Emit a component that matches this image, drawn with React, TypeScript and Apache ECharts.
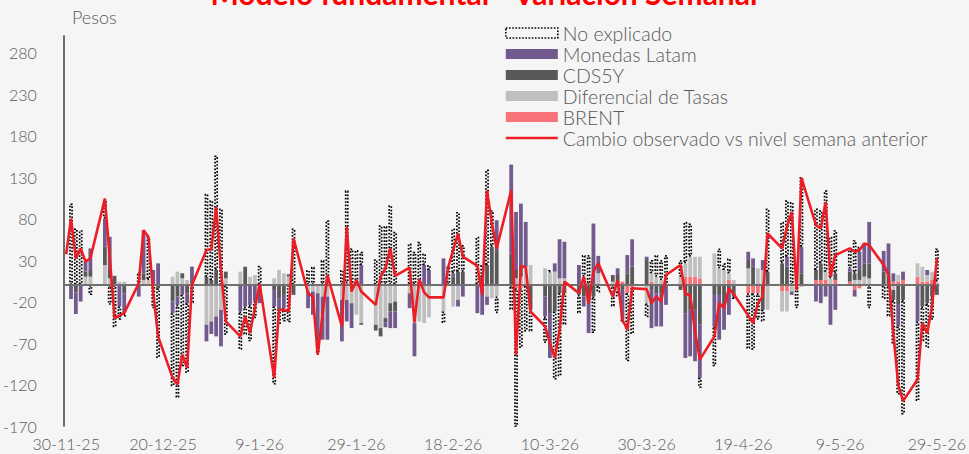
import React, { useEffect, useRef } from "react";
import * as echarts from "echarts";

// Calendar: daily axis from 30-11-25 to 29-5-26, values only on weekdays
const startYear = 2025;
const startMonth = 10; // November (0-based)
const startDay = 30;
const dayCount = 181;

const legendNames = [
  "No explicado",
  "Monedas Latam",
  "CDS5Y",
  "Diferencial de Tasas",
  "BRENT",
  "Cambio observado vs nivel semana anterior",
];

// Weekday values, 5 per week (Mon..Fri), 26 weeks
const brent = [
  0, 0, 0, 0, 0, 0, 0, 0, 0, 0, 0, 0, 0, 0, 0, 0, 0, 0, 0, 0, 0, 0, 0, 0, 0,
  0, 0, 0, 0, 0, 0, 0, 0, 0, 0, 0, 0, 0, 0, 0, 0, 2, 0, 0, 0, 0, 0, 0, 0, 0,
  0, 0, 0, 0, 0, 0, 0, 0, 0, 0, 0, 0, 0, 0, 0, 0, -4, -4, 0, 0, 0, 0, 0, 0, 0,
  0, 0, 0, 0, 0, 0, 0, 4, -10, -4, 0, 4, 0, 0, 0, 0, 10, 10, 10, 8, 0, 0, 0, 6, 0,
  -10, -10, -10, 0, 0, -8, -8, 0, 0, -2, 6, 6, 6, 0, 6, 4, -6, -4, 0, 0, 0, 0, 4, 4, 6,
  10, 4, 4, 6, 0,
];
const diferencial = [
  0, 0, 0, 10, 10, 24, 8, 0, 4, 4, 0, 6, 6, 0, 0, 10, 16, 8, 6, 0, -48, -44, -38, -30, 8,
  16, 0, 10, 12, 0, 8, 18, 14, 10, 0, -8, -8, -10, -14, -14, -18, -18, -22, -36, -46, -48, -52, -40, -22, -20,
  -10, -46, -44, -46, -39, -32, 0, -26, -18, 0, 0, 0, -14, -16, -14, 0, 8, 10, 22, 24, 20, 15, 16, 8, 8,
  0, 10, 0, 0, 14, 4, -8, 0, 0, 0, -22, 10, 10, 6, 0, 10, 16, 24, 24, 26, 38, 20, 18, 8, 6,
  20, 0, 20, 18, -30, -24, -24, -8, 22, 0, 0, 0, 10, 8, 0, 0, 6, 6, 10, 8, 0, 0, -6, 8, 0,
  16, 18, 8, 10, 4,
];
const cds = [
  0, -9, 0, 6, 8, 22, 10, 11, 0, -10, 0, 8, 0, 0, -4, -20, -14, 6, -10, 0, 10, 6, 18, 0, 8,
  0, 22, 0, 0, 0, -6, -16, -12, 0, -12, 0, 0, 0, 0, 0, 0, 0, 0, 0, -2, -7, -10, -5, -10, -12,
  0, 0, 0, 0, 0, 0, 0, 10, 16, 16, 0, 10, 24, 46, 42, 38, 10, 12, 0, -30, -14, -34, -32, -10, -10,
  -12, -14, -14, -14, 0, 8, 12, -6, 14, 22, 30, -6, -10, -10, 0, -6, -34, -30, -30, -48, -12, -12, -26, -6, -14,
  10, 22, 0, -30, 16, 26, 22, 0, 0, 14, 12, 20, 0, 0, 8, 12, 8, 12, 16, 18, 16, 12, -12, -24, -18,
  0, -26, -22, -14, -12,
];
const monedas = [
  -17, -26, -20, 12, 26, 34, 40, 0, -26, -24, -14, 52, 0, 18, 26, -14, -10, -12, -12, 22, -20, -15, -24, -44, 0,
  -32, -26, -24, -20, -22, -20, -14, -16, 3, 0, -20, -28, -54, -52, -52, -50, -26, -30, 0, 24, 0, 0, -6, -20, -20,
  -18, -40, 0, 24, 18, 32, 0, 4, -8, -14, -34, -36, -10, 0, 36, 107, 70, 76, 54, 0, -24, -54, 10, 47, 44,
  24, -12, -44, 74, 21, 0, 8, -36, 22, 33, 4, -46, -40, -40, -24, 0, -54, -56, -62, -64, -38, -54, -28, -30, 0,
  10, 10, 0, 12, 0, 0, 12, -4, 0, 32, -20, -22, -14, -48, -30, 4, -8, 22, 24, 50, 25, 38, 10, -26, 10,
  -44, 0, 6, 0, 0,
];
const noExplicado = [
  98, 68, 66, 0, -12, 24, -24, -51, -16, -4, 16, 0, 52, -28, -84, -88, -112, -86, -84, -22, 100, 96, 138, 92, -60,
  -46, -34, -44, -20, 23, -94, -18, -16, -45, 68, 18, 22, -20, 30, 78, 18, 112, 44, 42, 16, 31, 72, 71, 96, 64,
  50, 40, 52, 14, 6, -14, 22, 54, 72, 32, 58, 14, 115, 44, -20, -30, -168, -72, -56, -26, -32, 3, -82, -100, -38,
  -22, 26, 36, -44, -9, -26, -6, -4, -82, -55, -17, 16, 26, 24, 36, 20, 50, 40, 0, -12, -48, 24, 8, 18, -3,
  -67, -68, -32, -14, 76, 50, 68, 100, -28, 84, 74, 64, 98, 50, 52, 24, 40, 6, 0, -28, -17, -38, -54, -82, -138,
  -96, -42, -54, -28, 40,
];
const cambioObservado = [
  80, 32, 44, 28, 32, 104, 34, -40, -37, -34, 2, 66, 58, -10, -62, -112, -120, -84, -100, 0, 42, 43, 94, 18, -44,
  -62, -38, -58, -28, 1, -112, -30, -30, -32, 56, -10, -14, -84, -36, 12, -50, 70, -8, 6, -8, -24, 10, 20, 44, 11,
  21, -45, 7, -9, -15, -15, 22, 42, 62, 34, 23, -12, 114, 74, 44, 114, -84, 23, 21, -32, -50, -70, -88, -55, 4,
  -10, 10, -22, 16, 26, -14, 6, -42, -54, -4, -5, -22, -14, -20, 12, 24, -11, -12, -56, -90, -62, -22, -28, -4, -11,
  -37, -46, -22, -14, 62, 44, 70, 88, -6, 129, 72, 68, 100, 10, 36, 44, 40, 42, 50, 48, 24, 12, -58, -120, -140,
  -114, -46, -58, -26, 32,
];
// line value at the left edge (30-11-25), carried in from the previous week
const lineCarryIn = 37;

const yMin = -170;
const yMax = 300;
const yInterval = 50;

function buildCalendar() {
  const start = Date.UTC(startYear, startMonth, startDay);
  const labels: string[] = [];
  const weekday: boolean[] = [];
  for (let i = 0; i < dayCount; i++) {
    const d = new Date(start + i * 86400000);
    labels.push(`${d.getUTCDate()}-${d.getUTCMonth() + 1}-${String(d.getUTCFullYear()).slice(2)}`);
    const wd = d.getUTCDay();
    weekday.push(wd >= 1 && wd <= 5);
  }
  return { labels, weekday };
}

function spread(values: number[], weekday: boolean[], zeroAsNull: boolean) {
  const out: (number | null)[] = [];
  let k = 0;
  for (let i = 0; i < weekday.length; i++) {
    if (weekday[i]) {
      const v = values[k++];
      out.push(v === undefined ? null : zeroAsNull && v === 0 ? null : v);
    } else out.push(null);
  }
  return out;
}

const FONT = "Lato";
const TXT = "#595959";
// thin line icon for the legend (tiny corner dots keep the 10px box height)
const LINE_ICON = "path://M0,3.7h52v2.6h-52z M0,0h0.01v0.01h-0.01z M0,10h0.01v0.01h-0.01z";

export default function App() {
  const ref = useRef<HTMLDivElement>(null);
  useEffect(() => {
    document.body.style.margin = "0";
    if (!ref.current) return;
    const chart = echarts.init(ref.current, undefined, { renderer: "svg" });
    const { labels, weekday } = buildCalendar();
    const lineData = spread(cambioObservado, weekday, false);
    lineData[0] = lineCarryIn;
    const barW = 3.8;
    const barSeries = (name: string, vals: number[], color: string, extra: any = {}) => ({
      name,
      type: "bar",
      stack: "total",
      barWidth: barW,
      data: spread(vals, weekday, true),
      itemStyle: { color, ...extra },
      emphasis: { disabled: true },
    });
    chart.setOption({
      animation: false,
      backgroundColor: "#f5f5f5",
      textStyle: { fontFamily: FONT },
      grid: { left: 63, right: 28, top: 36, bottom: 28, containLabel: false },
      legend: {
        orient: "vertical",
        left: 500,
        top: 18,
        itemWidth: 52,
        itemHeight: 10,
        itemGap: 1,
        data: legendNames.map((n, i) =>
          i === 5
            ? { name: n, icon: LINE_ICON, itemStyle: { color: "#ee1c25" } }
            : i === 0
            ? {
                name: n,
                icon: "rect",
                itemStyle: {
                  color: "rgba(255,255,255,0)",
                  borderColor: "#000000",
                  borderWidth: 1.6,
                  borderType: [1.6, 1.6],
                },
              }
            : { name: n, icon: "rect" }
        ),
        textStyle: { fontFamily: FONT, fontSize: 19.5, color: TXT, lineHeight: 18, fontWeight: 300 },
      },
      graphic: [
        {
          type: "text",
          left: "center",
          top: -22,
          style: { text: "Modelo fundamental - Variación Semanal", fill: "#ff0000", font: `bold 30px ${FONT}` },
        },
        { type: "text", left: 72, top: 8, style: { text: "Pesos", fill: TXT, font: `300 18px ${FONT}` } },
      ],
      xAxis: {
        type: "category",
        data: labels,
        boundaryGap: true,
        axisLine: { show: false, onZero: false },
        axisTick: { show: false },
        axisLabel: { interval: 19, fontSize: 16, color: TXT, margin: 9, fontFamily: FONT, fontWeight: 300 },
        splitLine: { show: false },
      },
      yAxis: {
        type: "value",
        min: yMin,
        max: yMax,
        interval: yInterval,
        axisLine: { show: true, lineStyle: { color: "#6e6e6e", width: 2 } },
        axisTick: { show: false },
        splitLine: { show: false },
        axisLabel: { fontSize: 16, color: TXT, margin: 27, showMaxLabel: false, fontFamily: FONT, fontWeight: 300 },
      },
      series: [
        barSeries("BRENT", brent, "#f87378"),
        barSeries("Diferencial de Tasas", diferencial, "#bfbfbf"),
        barSeries("CDS5Y", cds, "#595959"),
        barSeries("Monedas Latam", monedas, "#725a8e"),
        barSeries("No explicado", noExplicado, "rgba(255,255,255,0)", {
          borderColor: "#000000",
          borderWidth: 1.7,
          borderType: [1.7, 1.7],
        }),
        {
          name: legendNames[5],
          type: "line",
          data: lineData,
          connectNulls: true,
          symbol: "none",
          showSymbol: false,
          z: 5,
          lineStyle: { color: "#ee1c25", width: 2.6 },
          itemStyle: { color: "#ee1c25" },
          emphasis: { disabled: true },
          markLine: {
            silent: true,
            symbol: "none",
            label: { show: false },
            lineStyle: { color: "#707070", width: 2, type: "solid" },
            data: [{ yAxis: 0 }],
          },
        },
      ],
    });
    return () => chart.dispose();
  }, []);
  return <div ref={ref} style={{ width: 969, height: 454, background: "#f5f5f5" }} />;
}
